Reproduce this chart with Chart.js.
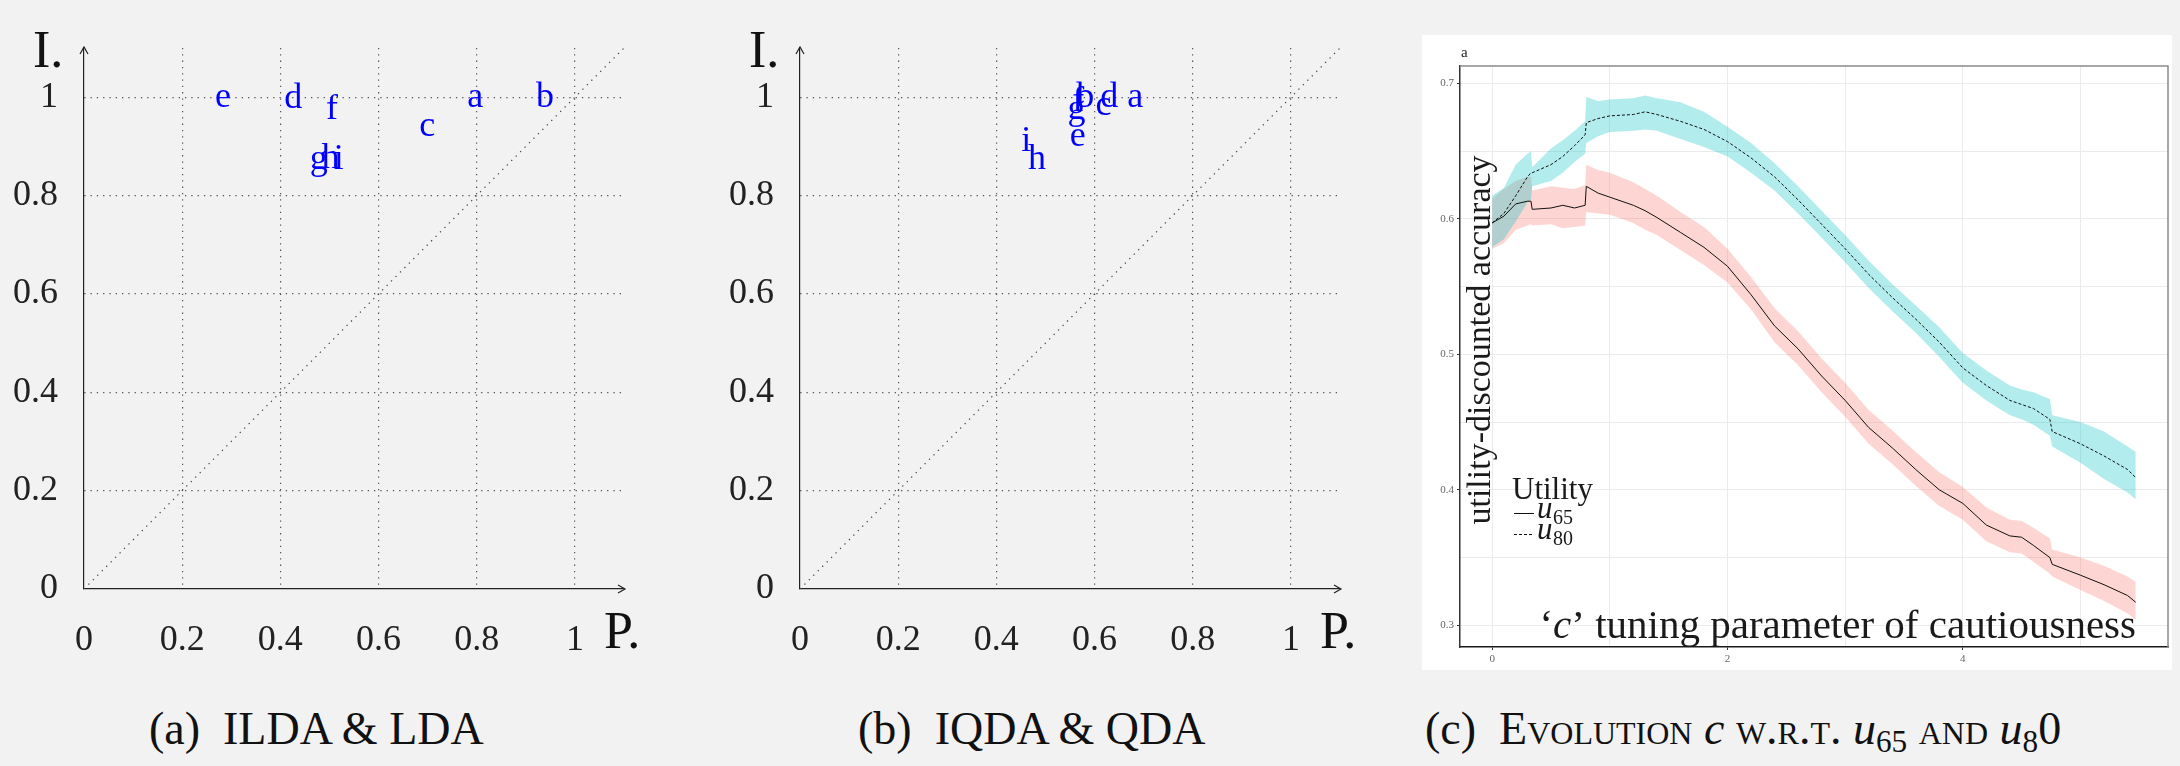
<!DOCTYPE html>
<html>
<head>
<meta charset="utf-8">
<script src="https://cdn.jsdelivr.net/npm/chart.js@4.4.1/dist/chart.umd.min.js"></script>
<style>
  html, body { margin: 0; padding: 0; background: #f2f2f2; }
  body { width: 2180px; height: 766px; position: relative; overflow: hidden; font-family: 'Liberation Serif', serif; }
  canvas { position: absolute; }
  .cap { position: absolute; top: 706px; font-size: 46px; line-height: 1; color: #111; white-space: nowrap; }
  .sc { font-variant: small-caps; }
  .sub { font-size: 0.68em; vertical-align: -0.25em; }
</style>
</head>
<body>
<canvas id="chartA" width="660" height="680" style="left:0;top:0"></canvas>
<canvas id="chartB" width="660" height="680" style="left:716px;top:0"></canvas>
<canvas id="chartC" width="750" height="635" style="left:1422px;top:35px"></canvas>
<div class="cap" style="left:149px">(a)&nbsp;&nbsp;ILDA &amp; LDA</div>
<div class="cap" style="left:858px">(b)&nbsp;&nbsp;IQDA &amp; QDA</div>
<div class="cap" style="left:1425px">(c)&nbsp;&nbsp;<span class="sc">Evolution</span> <i>c</i> <span class="sc">w.r.t.</span> <i>u</i><span class="sub">65</span> <span class="sc">and</span> <i>u</i><span class="sub">8</span>0</div>
<script>
// panels (a) and (b): letters at (P., I.)
const letters = ['a', 'b', 'c', 'd', 'e', 'f', 'g', 'h', 'i'];
const pA = [0.797, 0.939, 0.699, 0.426, 0.283, 0.505, 0.478, 0.502, 0.519];
const iA = [1.0, 1.0, 0.940, 0.998, 1.0, 0.974, 0.873, 0.876, 0.873];
const pB = [0.683, 0.581, 0.618, 0.630, 0.566, 0.567, 0.563, 0.483, 0.461];
const iB = [1.0, 1.0, 0.984, 1.0, 0.919, 0.991, 0.974, 0.873, 0.910];
const diagX = [0, 1.1];
const diagY = [0, 1.1];

// panel (c): tuning parameter c and accuracy curves with bands
const cVals = [0, 0.1, 0.2, 0.3, 0.33, 0.34, 0.5, 0.6, 0.7, 0.79, 0.8, 0.9, 1.0, 1.2, 1.3, 1.4, 1.6, 1.8, 2.0,
  2.2, 2.4, 2.6, 2.8, 3.0, 3.2, 3.4, 3.6, 3.8, 4.0, 4.2, 4.4, 4.5, 4.6, 4.74, 4.76, 5.0, 5.2, 5.4, 5.47];
const u80Mean = [0.597, 0.604, 0.617, 0.631, 0.634, 0.634, 0.640, 0.646, 0.654, 0.662, 0.671, 0.674, 0.676, 0.677, 0.679,
  0.677, 0.672, 0.666, 0.657, 0.645, 0.631, 0.614, 0.596, 0.578, 0.559, 0.542, 0.526, 0.509, 0.490, 0.477, 0.466, 0.463,
  0.460, 0.452, 0.443, 0.434, 0.425, 0.415, 0.409];
const u80Hi = [0.617, 0.623, 0.640, 0.648, 0.650, 0.638, 0.652, 0.658, 0.665, 0.672, 0.690, 0.687, 0.688, 0.689, 0.691,
  0.689, 0.686, 0.679, 0.668, 0.656, 0.641, 0.624, 0.606, 0.588, 0.569, 0.552, 0.536, 0.520, 0.501, 0.488, 0.477, 0.474,
  0.472, 0.467, 0.455, 0.450, 0.443, 0.432, 0.428];
const u80Lo = [0.579, 0.585, 0.598, 0.612, 0.614, 0.624, 0.628, 0.634, 0.642, 0.648, 0.656, 0.661, 0.664, 0.665, 0.666,
  0.665, 0.659, 0.653, 0.646, 0.634, 0.621, 0.604, 0.586, 0.568, 0.549, 0.532, 0.516, 0.498, 0.479, 0.466, 0.455, 0.452,
  0.448, 0.440, 0.432, 0.420, 0.408, 0.398, 0.393];
const u65Mean = [0.597, 0.602, 0.611, 0.613, 0.613, 0.607, 0.608, 0.610, 0.608, 0.610, 0.624, 0.619, 0.616, 0.610, 0.606,
  0.601, 0.590, 0.579, 0.565, 0.544, 0.521, 0.504, 0.484, 0.466, 0.446, 0.431, 0.415, 0.400, 0.390, 0.374, 0.366, 0.365,
  0.359, 0.350, 0.345, 0.337, 0.330, 0.322, 0.317];
const u65Hi = [0.615, 0.622, 0.628, 0.631, 0.631, 0.621, 0.624, 0.623, 0.622, 0.625, 0.640, 0.636, 0.634, 0.627, 0.622,
  0.617, 0.605, 0.594, 0.578, 0.557, 0.534, 0.517, 0.497, 0.479, 0.459, 0.444, 0.428, 0.413, 0.402, 0.387, 0.378, 0.377,
  0.372, 0.364, 0.356, 0.350, 0.344, 0.336, 0.332];
const u65Lo = [0.578, 0.582, 0.592, 0.595, 0.596, 0.595, 0.596, 0.593, 0.594, 0.595, 0.605, 0.604, 0.603, 0.597, 0.592,
  0.588, 0.577, 0.566, 0.553, 0.533, 0.509, 0.492, 0.472, 0.454, 0.434, 0.419, 0.403, 0.388, 0.378, 0.362, 0.354, 0.353,
  0.347, 0.338, 0.336, 0.326, 0.318, 0.309, 0.304];

const serif = 'Liberation Serif';

const letterPlugin = {
  id: 'letters',
  afterDatasetsDraw(chart) {
    const ctx = chart.ctx;
    const meta = chart.getDatasetMeta(0);
    ctx.save();
    ctx.fillStyle = '#0000ff';
    ctx.font = '36px "' + serif + '"';
    ctx.textAlign = 'center';
    ctx.textBaseline = 'middle';
    meta.data.forEach((pt, k) => ctx.fillText(letters[k], pt.x, pt.y));
    ctx.restore();
  }
};

const axisDecor = {
  id: 'axisDecor',
  afterDraw(chart) {
    const {ctx, chartArea: a} = chart;
    ctx.save();
    ctx.strokeStyle = '#222';
    ctx.lineWidth = 1.2;
    ctx.beginPath();
    ctx.moveTo(a.right - 6, a.bottom - 4);
    ctx.lineTo(a.right + 1, a.bottom);
    ctx.lineTo(a.right - 6, a.bottom + 4);
    ctx.moveTo(a.left - 4, a.top + 6);
    ctx.lineTo(a.left, a.top - 1);
    ctx.lineTo(a.left + 4, a.top + 6);
    ctx.stroke();
    ctx.fillStyle = '#111';
    ctx.font = '52px "' + serif + '"';
    ctx.fillText('I.', a.left - 51, a.top + 19);
    ctx.fillText('P.', a.left + 520, a.bottom + 59);
    ctx.restore();
  }
};

function fmtUnit(v) {
  return String(Math.round(v * 10) / 10);
}

function unitAxis(horizontal) {
  return {
    type: 'linear',
    min: 0,
    max: 1.1,
    afterFit: s => { if (horizontal) s.height = 91; else s.width = 84; },
    ticks: {
      stepSize: 0.2, includeBounds: false, autoSkip: false,
      color: '#222', font: {family: serif, size: 36},
      padding: horizontal ? 30 : 26,
      callback: v => fmtUnit(v)
    },
    grid: {
      color: c => (c.tick && Math.abs(c.tick.value) < 1e-9) ? 'rgba(0,0,0,0)' : '#555',
      lineWidth: 1.2,
      drawTicks: false
    },
    border: {color: '#222', width: 1.2, dash: [1.3, 5]}
  };
}

function scatterPanel(id, pVals, iVals) {
  return new Chart(document.getElementById(id), {
    type: 'scatter',
    data: {
      datasets: [
        {data: pVals.map((p, k) => ({x: p, y: iVals[k]})), pointRadius: 0},
        {
          type: 'line',
          data: diagX.map((v, k) => ({x: v, y: diagY[k]})),
          borderColor: '#444', borderWidth: 1.2, borderDash: [1.3, 5],
          pointRadius: 0, fill: false
        }
      ]
    },
    options: {
      responsive: false,
      animation: false,
      devicePixelRatio: 1,
      layout: {padding: {top: 48, right: 36, left: 0, bottom: 0}},
      plugins: {legend: {display: false}, tooltip: {enabled: false}},
      scales: {x: unitAxis(true), y: unitAxis(false)}
    },
    plugins: [letterPlugin, axisDecor]
  });
}

scatterPanel('chartA', pA, iA);
scatterPanel('chartB', pB, iB);

// panel (c)
const pts = ys => cVals.map((c, k) => ({x: c, y: ys[k]}));
const clear = 'rgba(0,0,0,0)';

const panelC = {
  id: 'panelC',
  beforeDraw(chart) {
    const c = chart.ctx;
    c.save();
    c.fillStyle = '#ffffff';
    c.fillRect(0, 0, chart.width, chart.height);
    c.restore();
  },
  afterDraw(chart) {
    const {ctx, chartArea: a} = chart;
    ctx.save();
    ctx.strokeStyle = '#8c8c8c';
    ctx.lineWidth = 1.5;
    ctx.beginPath();
    ctx.moveTo(a.left, a.top);
    ctx.lineTo(a.right, a.top);
    ctx.lineTo(a.right, a.bottom);
    ctx.stroke();

    ctx.fillStyle = '#1a1a1a';
    ctx.font = '15px "' + serif + '"';
    ctx.fillText('a', a.left + 1, a.top - 9);

    // y title, inside the panel
    ctx.save();
    ctx.translate(a.left + 21, a.top + 274);
    ctx.rotate(-Math.PI / 2);
    ctx.textAlign = 'center';
    ctx.textBaseline = 'middle';
    ctx.font = '34px "' + serif + '"';
    ctx.fillText('utility-discounted accuracy', 0, 0);
    ctx.restore();

    // x title, inside the panel
    const f = '41px "' + serif + '"';
    const t1 = '\u2018', t2 = 'c', t3 = '\u2019 tuning parameter of cautiousness';
    ctx.font = f;
    const w1 = ctx.measureText(t1).width, w3 = ctx.measureText(t3).width;
    ctx.font = 'italic ' + f;
    const w2 = ctx.measureText(t2).width;
    const x0 = a.left + 676 - (w1 + w2 + w3);
    const yb = a.bottom - 9;
    ctx.font = f;
    ctx.fillText(t1, x0, yb);
    ctx.font = 'italic ' + f;
    ctx.fillText(t2, x0 + w1, yb);
    ctx.font = f;
    ctx.fillText(t3, x0 + w1 + w2, yb);

    // legend
    ctx.font = '31px "' + serif + '"';
    ctx.fillText('Utility', 90, 464);
    ctx.strokeStyle = '#111';
    ctx.lineWidth = 1;
    ctx.beginPath();
    ctx.moveTo(92, 478.5);
    ctx.lineTo(112, 478.5);
    ctx.stroke();
    ctx.setLineDash([3, 2]);
    ctx.beginPath();
    ctx.moveTo(92, 499.5);
    ctx.lineTo(112, 499.5);
    ctx.stroke();
    ctx.setLineDash([]);
    ctx.font = 'italic 31px "' + serif + '"';
    ctx.fillText('u', 115, 483);
    ctx.fillText('u', 115, 504);
    ctx.font = '20px "' + serif + '"';
    ctx.fillText('65', 131, 489);
    ctx.fillText('80', 131, 510);
    ctx.restore();
  }
};

const smallTick = {family: serif, size: 11};
const isTenth = v => Math.abs(v * 10 - Math.round(v * 10)) < 1e-6;

new Chart(document.getElementById('chartC'), {
  type: 'line',
  data: {
    datasets: [
      {data: pts(u80Hi), fill: '+1', backgroundColor: 'rgba(0,191,196,0.3)', borderColor: clear, borderWidth: 0, pointRadius: 0, order: 3},
      {data: pts(u80Lo), fill: false, borderColor: clear, borderWidth: 0, pointRadius: 0, order: 3},
      {data: pts(u65Hi), fill: '+1', backgroundColor: 'rgba(248,118,109,0.3)', borderColor: clear, borderWidth: 0, pointRadius: 0, order: 4},
      {data: pts(u65Lo), fill: false, borderColor: clear, borderWidth: 0, pointRadius: 0, order: 4},
      {data: pts(u65Mean), fill: false, borderColor: '#111', borderWidth: 1, pointRadius: 0, order: 1},
      {data: pts(u80Mean), fill: false, borderColor: '#111', borderWidth: 1, borderDash: [3, 2], pointRadius: 0, order: 0}
    ]
  },
  options: {
    responsive: false,
    animation: false,
    devicePixelRatio: 1,
    layout: {padding: {top: 31, right: 4, left: 0, bottom: 0}},
    plugins: {legend: {display: false}, tooltip: {enabled: false}},
    scales: {
      x: {
        type: 'linear', min: -0.2735, max: 5.744,
        afterFit: s => { s.height = 23; },
        ticks: {
          stepSize: 1, includeBounds: false, autoSkip: false, padding: 3,
          color: '#666', font: smallTick,
          callback: v => (Math.round(v) % 2 === 0 ? String(Math.round(v)) : '')
        },
        grid: {
          color: '#ebebeb', lineWidth: 1, tickLength: 3,
          tickColor: c => (c.tick && Math.round(c.tick.value) % 2 === 0) ? '#333' : clear
        },
        border: {color: '#1a1a1a', width: 1.5}
      },
      y: {
        type: 'linear', min: 0.284, max: 0.7128,
        afterFit: s => { s.width = 38; },
        ticks: {
          stepSize: 0.05, includeBounds: false, autoSkip: false, padding: 3,
          color: '#666', font: smallTick,
          callback: v => (isTenth(v) ? v.toFixed(1) : '')
        },
        grid: {
          color: '#ebebeb', lineWidth: 1, tickLength: 3,
          tickColor: c => (c.tick && isTenth(c.tick.value)) ? '#333' : clear
        },
        border: {color: '#333', width: 1.5}
      }
    }
  },
  plugins: [panelC]
});
</script>
</body>
</html>
